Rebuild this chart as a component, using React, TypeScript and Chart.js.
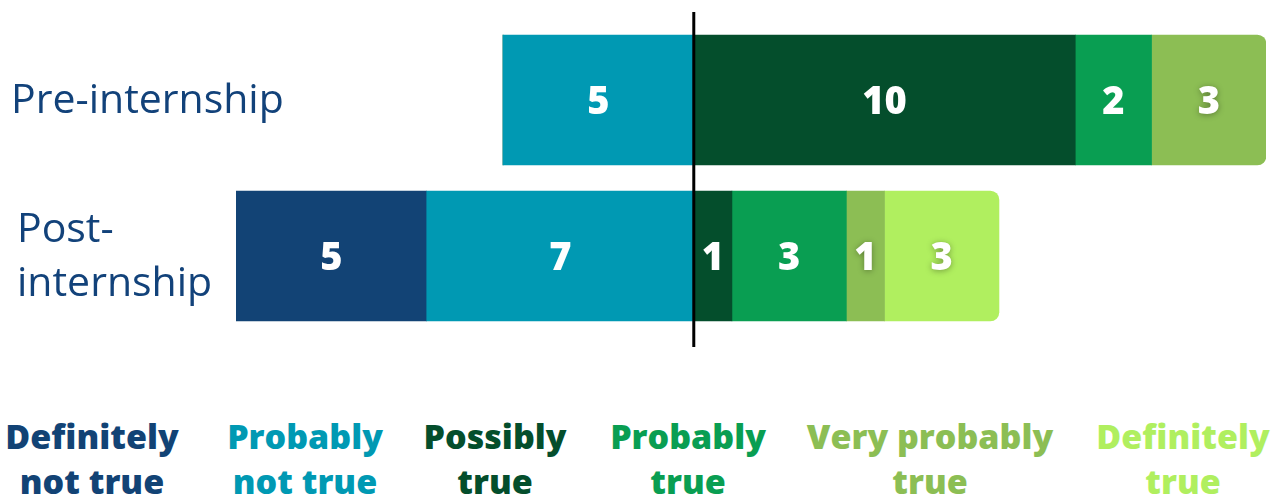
import React, { useEffect, useRef } from "react";
import { Chart, registerables } from "chart.js";

Chart.register(...registerables);

// ---- data ----
const categories = ["Pre-internship", "Post-internship"];
const categoryLines = [["Pre-internship"], ["Post-", "internship"]];
const responses = [
  "Probably not true",
  "Definitely not true",
  "Possibly true",
  "Probably true",
  "Very probably true",
  "Definitely true",
];
const probablyNotTrue = [5, 7];
const definitelyNotTrue = [0, 5];
const possiblyTrue = [10, 1];
const probablyTrue = [2, 3];
const veryProbablyTrue = [3, 1];
const definitelyTrue = [0, 3];
const negativeFlags = [true, true, false, false, false, false];
const legendOrder = [
  ["Definitely", "not true"],
  ["Probably", "not true"],
  ["Possibly", "true"],
  ["Probably", "true"],
  ["Very probably", "true"],
  ["Definitely", "true"],
];
const axisMin = -12;
const axisMax = 15;

// ---- styles ----
const seriesColors = ["#0099b3", "#124375", "#044e2c", "#099e52", "#8cbe54", "#b0ef5f"];
const legendColors = ["#124375", "#0099b3", "#044e2c", "#099e52", "#8cbe54", "#b0ef5f"];
const legendCenters = [92, 305, 495, 688, 930, 1183];
const labelColor = "#12427a";
const shadowed = [false, false, false, false, true, true];

const seriesValues = [probablyNotTrue, definitelyNotTrue, possiblyTrue, probablyTrue, veryProbablyTrue, definitelyTrue];

export default function App() {
  const canvasRef = useRef<HTMLCanvasElement | null>(null);

  useEffect(() => {
    const canvas = canvasRef.current;
    if (!canvas) return;

    const datasets = responses.map((name, di) => ({
      label: name,
      data: seriesValues[di].map((v) => (negativeFlags[di] ? -v : v)),
      backgroundColor: seriesColors[di],
      borderWidth: 0,
      barThickness: 130,
      borderSkipped: "start" as const,
      borderRadius: (ctx: any) => {
        const i = ctx.dataIndex;
        const d = ctx.datasetIndex;
        if (negativeFlags[d]) return 0;
        let last = -1;
        for (let k = 0; k < seriesValues.length; k++) {
          if (!negativeFlags[k] && seriesValues[k][i] > 0) last = k;
        }
        return last === d ? { topLeft: 0, bottomLeft: 0, topRight: 9, bottomRight: 9 } : 0;
      },
    }));

    const labelsPlugin = {
      id: "labels",
      afterDatasetsDraw(chart: any) {
        const ctx = chart.ctx;
        ctx.save();
        ctx.textAlign = "center";
        ctx.textBaseline = "middle";
        ctx.font = '800 38px "Open Sans", sans-serif';
        chart.data.datasets.forEach((ds: any, di: number) => {
          const meta = chart.getDatasetMeta(di);
          meta.data.forEach((el: any, i: number) => {
            const v = seriesValues[di][i];
            if (!v) return;
            const cx = (el.x + el.base) / 2;
            ctx.save();
            if (shadowed[di]) {
              ctx.shadowColor = "rgba(0,0,0,0.35)";
              ctx.shadowBlur = 6;
              ctx.shadowOffsetY = 1;
            }
            ctx.fillStyle = "#ffffff";
            ctx.fillText(String(v), cx, el.y + 3);
            ctx.restore();
          });
        });
        // zero line
        const xs = chart.scales.x;
        const x0 = xs.getPixelForValue(0);
        ctx.strokeStyle = "#000000";
        ctx.lineWidth = 3;
        ctx.beginPath();
        ctx.moveTo(x0, 12);
        ctx.lineTo(x0, 347);
        ctx.stroke();
        // category labels
        const ys = chart.scales.y;
        ctx.textAlign = "left";
        ctx.fillStyle = labelColor;
        ctx.font = '400 41px "Open Sans", sans-serif';
        categoryLines.forEach((lines, i) => {
          const cy = ys.getPixelForValue(i);
          const lh = 54;
          const startY = cy - ((lines.length - 1) * lh) / 2;
          lines.forEach((t, j) => {
            ctx.fillText(t, i === 0 ? 11 : 17, startY + j * lh + 1);
          });
        });
        ctx.restore();
      },
    };

    const chart = new Chart(canvas, {
      type: "bar",
      data: { labels: categories, datasets },
      options: {
        indexAxis: "y",
        animation: false,
        responsive: false,
        devicePixelRatio: 1,
        layout: { padding: { left: 236, right: 8, top: 22, bottom: 26 } },
        plugins: { legend: { display: false }, tooltip: { enabled: false } },
        scales: {
          x: { stacked: true, min: axisMin, max: axisMax, display: false },
          y: { stacked: true, display: false },
        },
      },
      plugins: [labelsPlugin],
    } as any);

    return () => chart.destroy();
  }, []);

  return (
    <div style={{ position: "absolute", left: 0, top: 0, width: 1274, height: 498, background: "#ffffff", overflow: "hidden" }}>
      <canvas ref={canvasRef} width={1274} height={360} style={{ position: "absolute", left: 0, top: 0, width: 1274, height: 360 }} />
      {legendOrder.map((lines, i) => (
        <div
          key={i}
          style={{
            position: "absolute",
            left: legendCenters[i],
            top: 414,
            transform: "translateX(-50%)",
            textAlign: "center",
            whiteSpace: "nowrap",
            color: legendColors[i],
            fontFamily: '"Open Sans", sans-serif',
            fontWeight: 800,
            fontSize: 34,
            lineHeight: "45px",
          }}
        >
          {lines.map((l, j) => (
            <div key={j}>{l}</div>
          ))}
        </div>
      ))}
    </div>
  );
}
